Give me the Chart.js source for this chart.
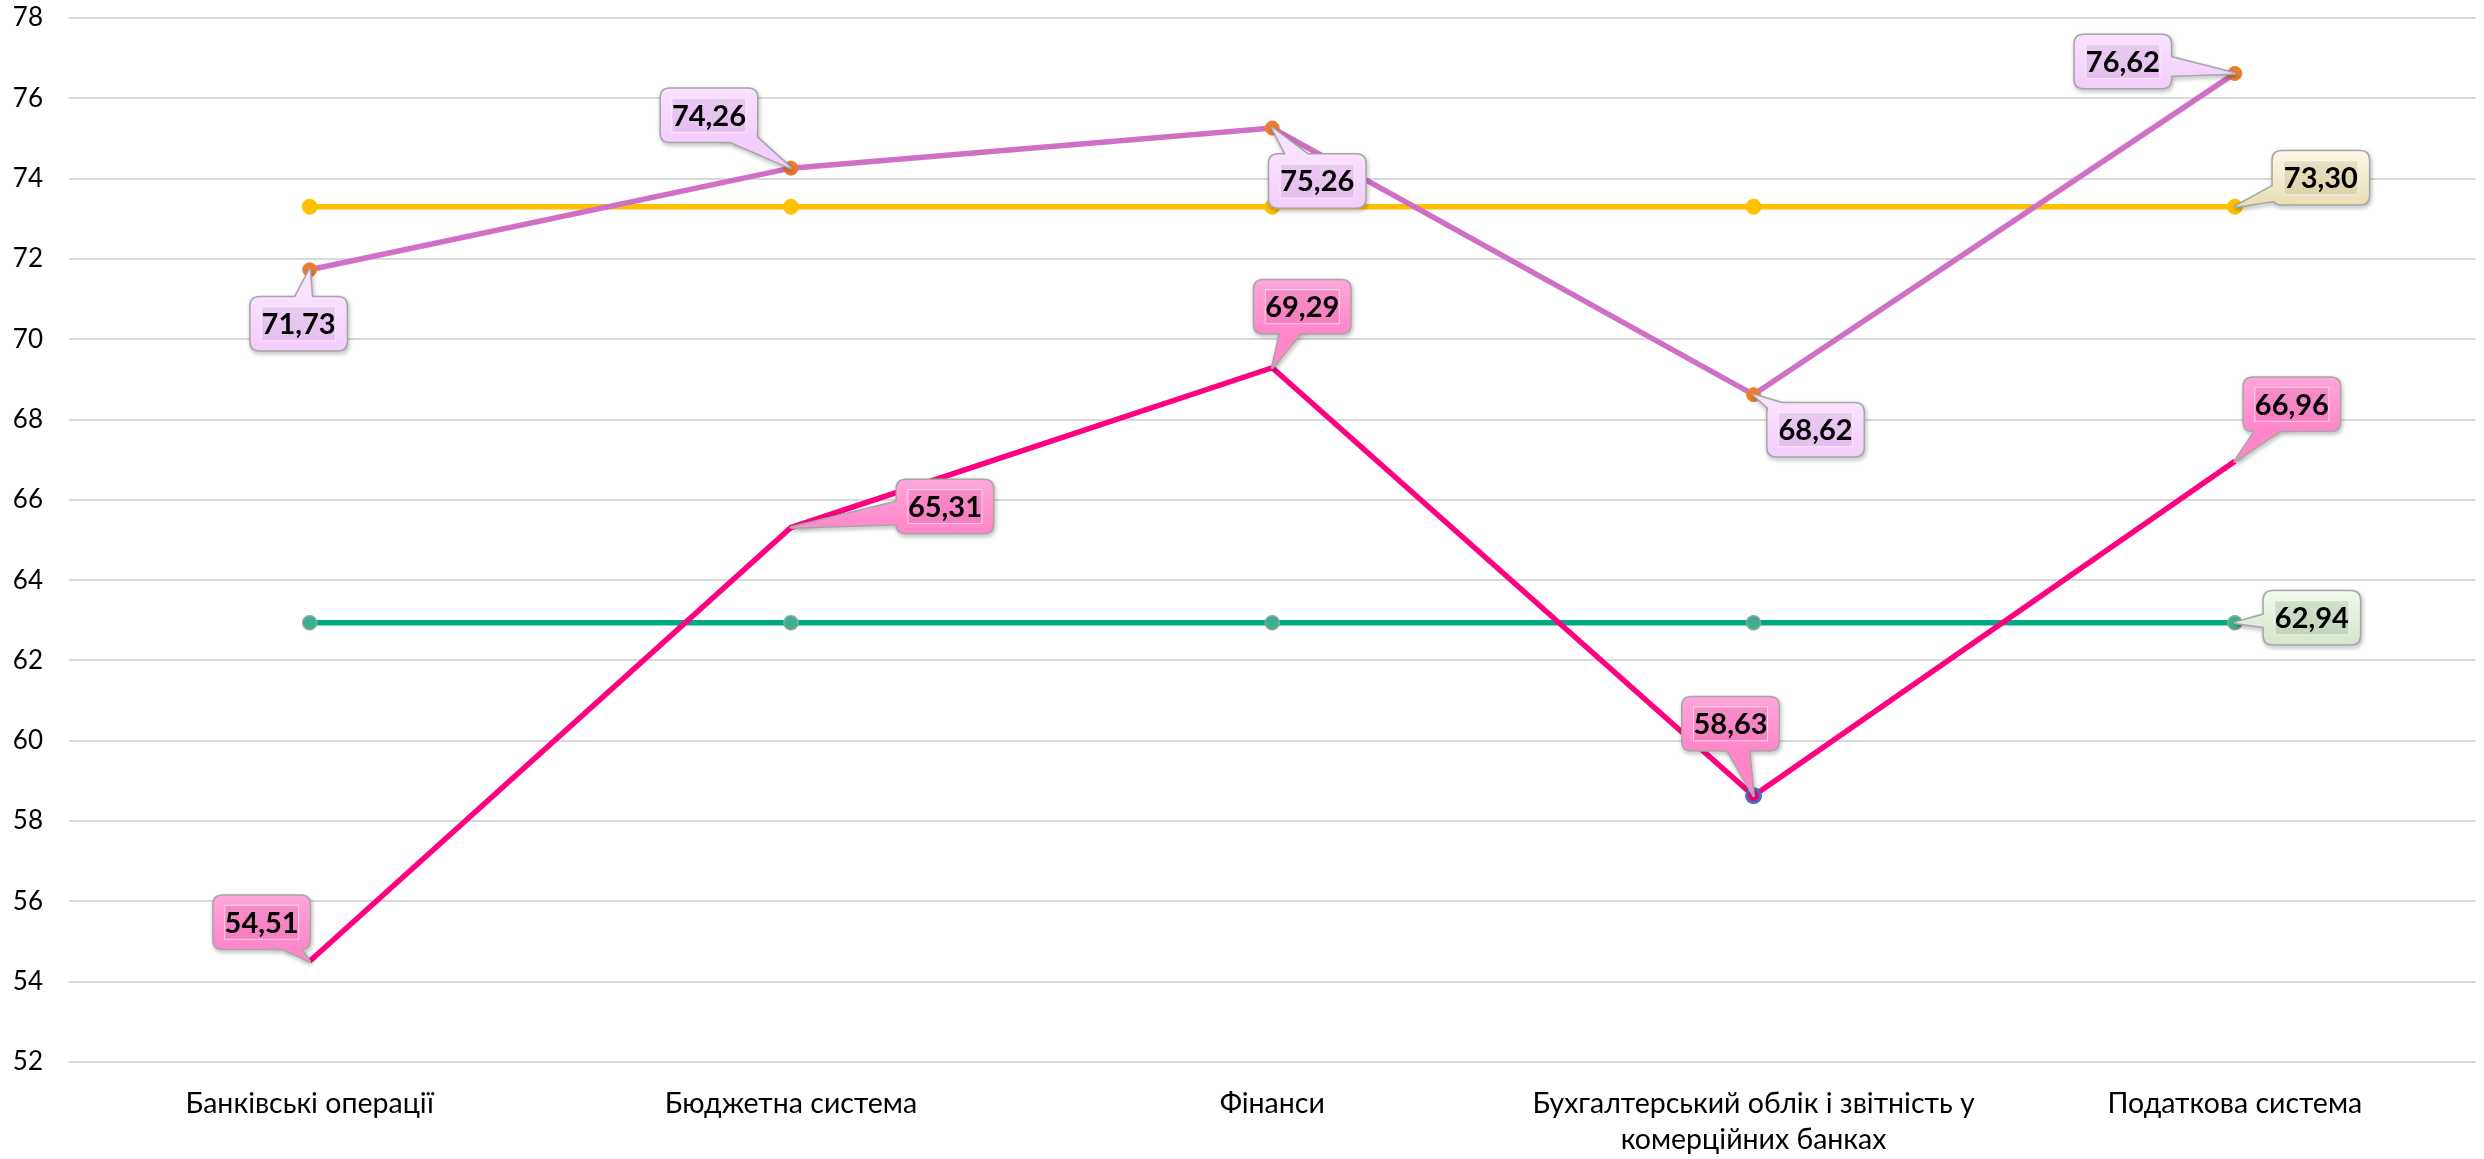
<!DOCTYPE html>
<html>
<head>
<meta charset="utf-8">
<script src="https://cdn.jsdelivr.net/npm/chart.js@4.4.1/dist/chart.umd.min.js"></script>
<style>
    html, body { margin: 0; padding: 0; background: #ffffff; }
    #wrap { width: 2484px; height: 1159px; position: relative; }
</style>
</head>
<body>
<div id="wrap"><canvas id="mainChart"></canvas></div>
<script>
// categories (x axis)
const categories = [
    'Банківські операції',
    'Бюджетна система',
    'Фінанси',
    ['Бухгалтерський облік і звітність у', 'комерційних банках'],
    'Податкова система'
];

// series values
const pinkValues   = [54.51, 65.31, 69.29, 58.63, 66.96];
const orchidValues = [71.73, 74.26, 75.26, 68.62, 76.62];
const goldValues   = [73.30, 73.30, 73.30, 73.30, 73.30];
const greenValues  = [62.94, 62.94, 62.94, 62.94, 62.94];

// y axis ticks
const yMin = 52;
const yMax = 78;
const yStep = 2;

const fontFamily = 'Lato, "Open Sans", sans-serif';

// callout placement for each label (offset of the box centre from its point)
const calloutStyles = [
    {   // pink
        fill: ['#FFA6DA', '#FF86C9'],
        inner: 'rgba(200, 60, 140, 0.18)',
        offsets: [[-48, -39], [154, -21], [30, -61], [-23, -72], [57, -57]],
        show: [true, true, true, true, true]
    },
    {   // orchid
        fill: ['#F9E2FF', '#F2CEFC'],
        inner: 'rgba(150, 90, 170, 0.15)',
        offsets: [[-11, 54], [-82, -53], [45, 53], [62, 35], [-112, -12]],
        show: [true, true, true, true, true]
    },
    {   // gold
        fill: ['#FBF8E8', '#E8DFB6'],
        inner: 'rgba(160, 140, 70, 0.18)',
        offsets: [[0, 0], [0, 0], [0, 0], [0, 0], [86, -29]],
        show: [false, false, false, false, true]
    },
    {   // green
        fill: ['#F2F8EE', '#D5E6CB'],
        inner: 'rgba(90, 130, 80, 0.18)',
        offsets: [[0, 0], [0, 0], [0, 0], [0, 0], [77, -5]],
        show: [false, false, false, false, true]
    }
];

function formatValue(v) {
    return v.toFixed(2).replace('.', ',');
}

function roundRectPath(ctx, x, y, w, h, r) {
    ctx.moveTo(x + r, y);
    ctx.lineTo(x + w - r, y);
    ctx.quadraticCurveTo(x + w, y, x + w, y + r);
    ctx.lineTo(x + w, y + h - r);
    ctx.quadraticCurveTo(x + w, y + h, x + w - r, y + h);
    ctx.lineTo(x + r, y + h);
    ctx.quadraticCurveTo(x, y + h, x, y + h - r);
    ctx.lineTo(x, y + r);
    ctx.quadraticCurveTo(x, y, x + r, y);
    ctx.closePath();
}

// Draws the speech-bubble data labels
const calloutPlugin = {
    id: 'callouts',
    afterDatasetsDraw(chart) {
        const ctx = chart.ctx;
        const boxW = 96, boxH = 53, radius = 9;

        chart.data.datasets.forEach((ds, di) => {
            const style = calloutStyles[di];
            const meta = chart.getDatasetMeta(di);
            meta.data.forEach((pt, i) => {
                if (!style.show[i]) return;
                const px = pt.x, py = pt.y;
                const cx = px + style.offsets[i][0];
                const cy = py + style.offsets[i][1];
                const bx = cx - boxW / 2, by = cy - boxH / 2;

                // pointer triangle
                const dx = px - cx, dy = py - cy;
                const len = Math.sqrt(dx * dx + dy * dy) || 1;
                const nx = -dy / len * 16, ny = dx / len * 16;

                const shape = () => {
                    ctx.beginPath();
                    roundRectPath(ctx, bx, by, boxW, boxH, radius);
                    ctx.moveTo(cx + nx, cy + ny);
                    ctx.lineTo(px, py);
                    ctx.lineTo(cx - nx, cy - ny);
                    ctx.closePath();
                };

                ctx.save();
                // outline with shadow
                ctx.shadowColor = 'rgba(0, 0, 0, 0.35)';
                ctx.shadowBlur = 4;
                ctx.shadowOffsetX = 1;
                ctx.shadowOffsetY = 2;
                ctx.strokeStyle = '#A6A6A6';
                ctx.lineWidth = 3;
                ctx.lineJoin = 'round';
                shape();
                ctx.stroke();
                ctx.restore();

                ctx.save();
                const grad = ctx.createLinearGradient(0, by, 0, by + boxH);
                grad.addColorStop(0, style.fill[0]);
                grad.addColorStop(1, style.fill[1]);
                ctx.fillStyle = grad;
                ctx.beginPath();
                roundRectPath(ctx, bx, by, boxW, boxH, radius);
                ctx.fill();
                ctx.beginPath();
                ctx.moveTo(cx + nx, cy + ny);
                ctx.lineTo(px, py);
                ctx.lineTo(cx - nx, cy - ny);
                ctx.closePath();
                ctx.fill();

                // inner text frame
                ctx.fillStyle = style.inner;
                ctx.fillRect(cx - 37, cy - 17, 74, 34);
                ctx.strokeStyle = 'rgba(255, 255, 255, 0.6)';
                ctx.lineWidth = 1;
                ctx.strokeRect(cx - 37, cy - 17, 74, 34);

                // value text
                ctx.fillStyle = '#000000';
                ctx.font = 'bold 29px ' + fontFamily;
                ctx.textAlign = 'center';
                ctx.textBaseline = 'middle';
                ctx.fillText(formatValue(ds.data[i]), cx, cy + 1);
                ctx.restore();
            });
        });
    }
};

const ctx = document.getElementById('mainChart').getContext('2d');

const mainChart = new Chart(ctx, {
    type: 'line',
    data: {
        labels: categories,
        datasets: [
            {
                data: pinkValues,
                borderColor: '#FF0080',
                borderWidth: 5.5,
                pointRadius: [0, 0, 0, 7, 0],
                pointBackgroundColor: '#FF0080',
                pointBorderColor: '#4472C4',
                pointBorderWidth: 3,
                tension: 0
            },
            {
                data: orchidValues,
                borderColor: '#CF6FC6',
                borderWidth: 5.5,
                pointRadius: 7,
                pointBackgroundColor: '#ED7D31',
                pointBorderColor: '#ED7D31',
                pointBorderWidth: 1,
                tension: 0
            },
            {
                data: goldValues,
                borderColor: '#FFC000',
                borderWidth: 5.5,
                pointRadius: 7.5,
                pointBackgroundColor: '#FFC000',
                pointBorderColor: '#FFC000',
                pointBorderWidth: 1,
                tension: 0
            },
            {
                data: greenValues,
                borderColor: '#00A884',
                borderWidth: 5.5,
                pointRadius: 7,
                pointBackgroundColor: '#3DAF8E',
                pointBorderColor: '#8AA79E',
                pointBorderWidth: 1.5,
                tension: 0
            }
        ]
    },
    options: {
        responsive: true,
        maintainAspectRatio: false,
        animation: false,
        layout: {
            padding: { left: 0, right: 7, top: 18, bottom: 0 }
        },
        plugins: {
            legend: { display: false },
            tooltip: { enabled: false }
        },
        scales: {
            x: {
                offset: true,
                grid: { display: false, drawTicks: false },
                border: { display: false },
                ticks: {
                    color: '#000000',
                    font: { family: fontFamily, size: 28.5, lineHeight: 1.26 },
                    padding: 24,
                    maxRotation: 0,
                    autoSkip: false
                },
                afterFit(scale) { scale.height = 97; }
            },
            y: {
                min: yMin,
                max: yMax,
                // invisible tick marks push the labels left without adding top padding
                grid: { color: '#D9D9D9', lineWidth: 2, drawTicks: true, tickLength: 26, tickColor: 'rgba(0,0,0,0)' },
                border: { display: false },
                ticks: {
                    stepSize: yStep,
                    color: '#000000',
                    font: { family: fontFamily, size: 26 },
                    padding: 0
                },
                afterFit(scale) { scale.width = 69; }
            }
        }
    },
    plugins: [calloutPlugin]
});
</script>
</body>
</html>
